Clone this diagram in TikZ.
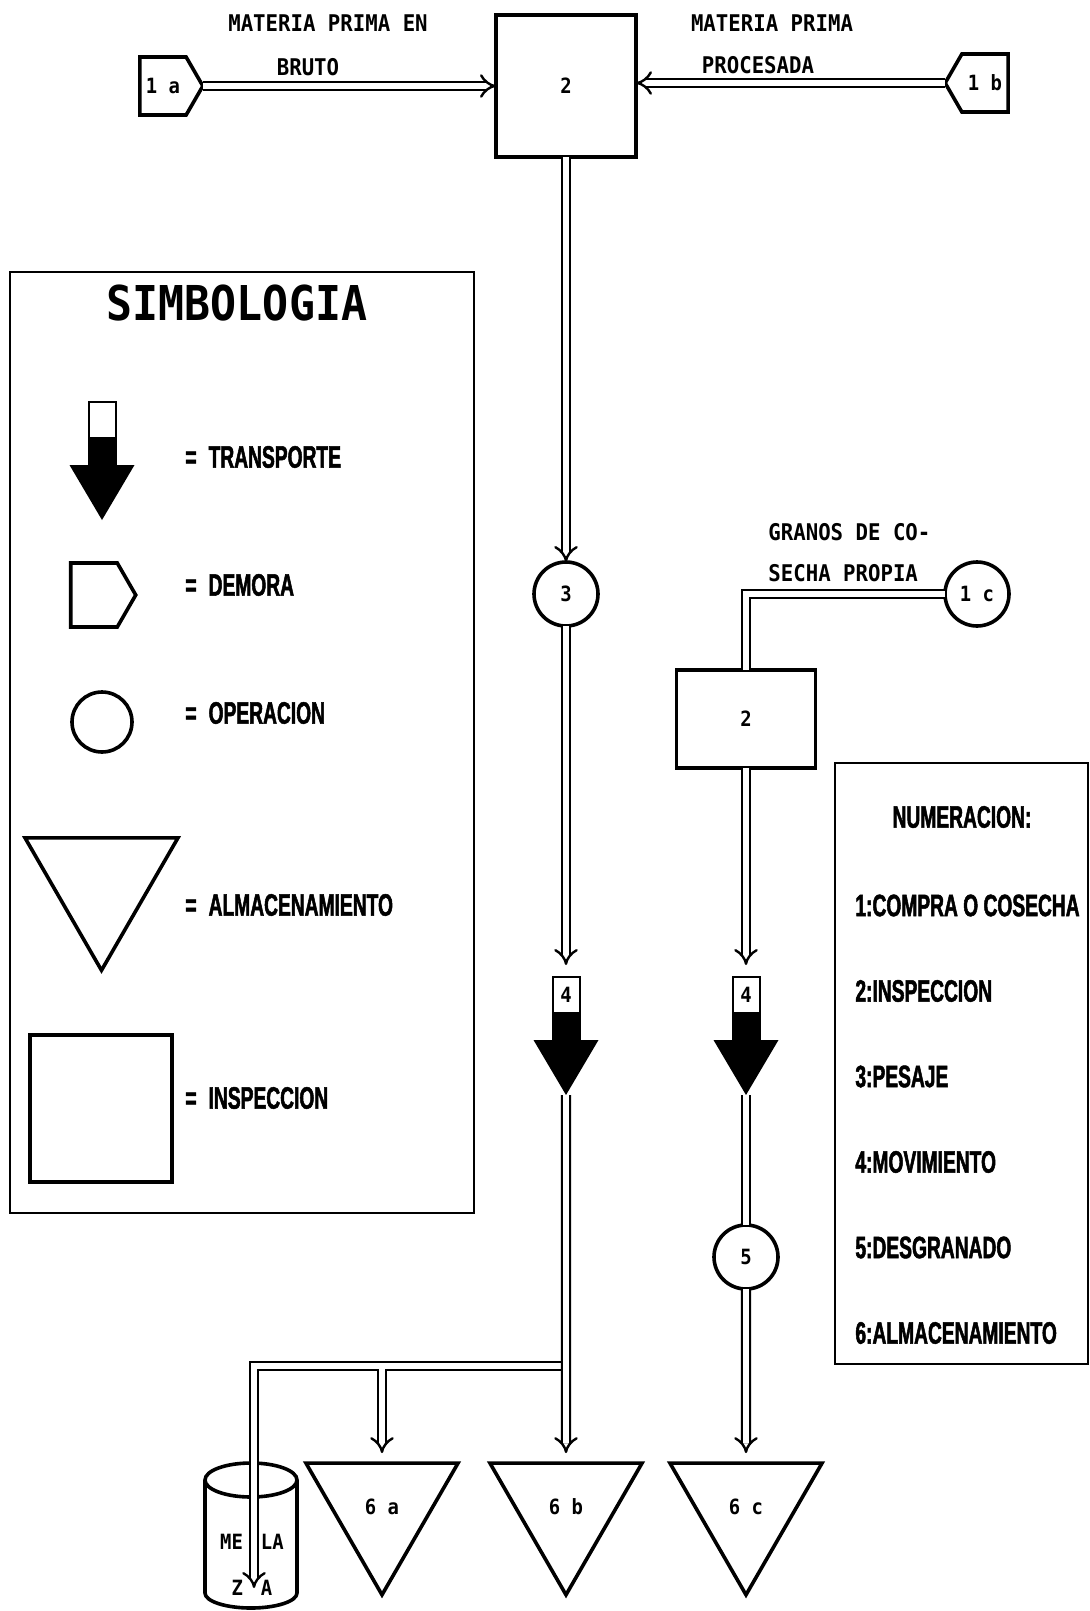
\documentclass[tikz,border=0pt]{standalone}
\usepackage{fontspec}
\usetikzlibrary{arrows.meta,positioning,shapes.geometric,shapes.symbols}
\newfontfamily\dotfont[FakeStretch=0.9]{DejaVu Sans Mono}
\newfontfamily\legfont[FakeStretch=0.62, BoldFeatures={FakeBold=1.6}]{Liberation Sans}

\tikzset{
  shapeline/.style={draw, line width=1.8pt, inner sep=0pt, outer sep=0pt},
  num/.style={font=\dotfont\bfseries\fontsize{10.5}{12}\selectfont},
  lbl/.style={font=\dotfont\bfseries\fontsize{11.5}{13}\selectfont, inner sep=0pt},
  leg/.style={font=\legfont\bfseries\fontsize{15.5}{18}\selectfont, inner sep=0pt},
  inspeccion/.style={shapeline, num, rectangle},
  operacion/.style={shapeline, num, circle, minimum size=32pt},
  demora/.style={shapeline, num, signal, signal pointer angle=120, minimum width=31.5pt, minimum height=29pt},
  almacen/.style={shapeline, num, regular polygon, regular polygon sides=3, shape border rotate=180, minimum size=87.8pt},
  flow/.style={double, line width=1.2pt, double distance=2.8pt},
  transporte/.pic={
    \fill (-32.5,63) -- (32.5,63) -- (0,118) -- cycle;
    \fill (-13.5,35) rectangle (13.5,63);
    \draw[line width=1pt] (-13.5,0) rectangle (13.5,63);
    \node[num, inner sep=0pt] (-lbl) at (0,17.5) {#1};
    \coordinate (-top) at (0,0);
    \coordinate (-tip) at (0,118);
  }
}

\begin{document}
\begin{tikzpicture}[x=0.5pt, y=-0.5pt]
    \fill[white] (0,0) rectangle (1089,1611);
    \useasboundingbox (0,0) rectangle (1089,1611);

    \node[demora, signal to=east] (d1a) at (163,86) {1 a};
    \node[demora, signal to=west] (d1b) at (985,83) {1 b};
    \node[inspeccion, minimum width=70pt, minimum height=71pt] (insp1) at (566,86) {2};
    \node[lbl] (mp1) at (328,23) {MATERIA PRIMA EN};
    \node[lbl] (mp2) at (308,67) {BRUTO};
    \node[lbl] (mp3) at (772,23) {MATERIA PRIMA};
    \node[lbl] (mp4) at (758,65) {PROCESADA};

    \node[operacion] (op3) at (566,594) {3};
    \node[operacion] (op1c) at (977,594) {1 c};
    \node[lbl, anchor=west] (gr1) at (768,532) {GRANOS DE CO-};
    \node[lbl, below=20.5pt of gr1.west, anchor=west] (gr2) {SECHA PROPIA};
    \node[inspeccion, minimum width=69.5pt, minimum height=49pt] (insp2) at (746,719) {2};

    \pic (t4a) at (566,977) {transporte=4};
    \pic (t4b) at (746,977) {transporte=4};
    \node[operacion] (op5) at (746,1257) {5};

    \node[almacen] (alm6a) at (382,1507) {6 a};
    \node[almacen] (alm6b) at (566,1507) {6 b};
    \node[almacen] (alm6c) at (746,1507) {6 c};

    \draw[line width=1.8pt] (251,1480) ellipse [x radius=46, y radius=17];
    \draw[line width=1.8pt] (205,1480) -- (205,1593) arc[start angle=180, end angle=0, x radius=46, y radius=15] -- (297,1480);
    \node[num] (mela1) at (252,1542) {ME\hspace{9pt}LA};
    \node[num] (mela2) at (252,1588) {Z\hspace{9pt}A};
    \coordinate (melafin) at (254,1588);

    \draw[flow, -{Implies}] (d1a.east) -- (insp1.west);
    \draw[flow, -{Implies}] (d1b.west) -- (d1b.west -| insp1.east);
    \draw[flow, -{Implies}] (insp1.south) -- (op3.north);
    \draw[flow, -{Implies}, shorten >=6pt] (op3.south) -- (t4a-top);
    \coordinate (jmain) at (566,1366);
    \coordinate (j6a) at (jmain -| alm6a.north);
    \draw[flow, -{Implies}] (jmain) -| (melafin);
    \draw[flow, -{Implies}, shorten >=5pt] ([yshift=-1.5pt]j6a) -- (alm6a.north);
    \draw[flow, -{Implies}, shorten >=5pt] (t4a-tip) -- (alm6b.north);

    \draw[flow] (op1c.west) -| (insp2.north);
    \draw[flow, -{Implies}, shorten >=6pt] (insp2.south) -- (t4b-top);
    \draw[flow] (t4b-tip) -- (op5.north);
    \draw[flow, -{Implies}, shorten >=5pt] (op5.south) -- (alm6c.north);

    \draw[line width=1pt] (10,272) rectangle (474,1213);
    \node[font=\dotfont\bfseries\fontsize{24}{28}\selectfont] (titulo) at (237,303) {SIMBOLOGIA};
    \pic (ltr) at (102,402) {transporte=};
    \node[leg, anchor=west] (ltrtxt) at (185,457) {=\hspace{6pt}TRANSPORTE};
    \node[demora, signal to=east, minimum width=32.5pt, minimum height=32pt] (ldem) at (94,595) {};
    \node[leg, anchor=west] (ldemtxt) at (185,585) {=\hspace{6pt}DEMORA};
    \node[operacion, minimum size=30pt] (lop) at (102,722) {};
    \node[leg, anchor=west] (loptxt) at (185,713) {=\hspace{6pt}OPERACION};
    \node[almacen, minimum size=88.3pt] (lalm) at (101.5,882) {};
    \node[leg, anchor=west] (lalmtxt) at (185,905) {=\hspace{6pt}ALMACENAMIENTO};
    \node[inspeccion, minimum width=71pt, minimum height=73.5pt] (linsp) at (101,1108.5) {};
    \node[leg, anchor=west] (linsptxt) at (185,1098) {=\hspace{6pt}INSPECCION};

    \draw[line width=1pt] (835,763) rectangle (1088,1364);
    \node[leg] (numtit) at (962,817) {NUMERACION:};
    \foreach \t [count=\k] in {{1:COMPRA O COSECHA},{2:INSPECCION},{3:PESAJE},{4:MOVIMIENTO},{5:DESGRANADO},{6:ALMACENAMIENTO}}
      \node[leg, anchor=west] (num\k) at (855,820+85.5*\k) {\t};
  \end{tikzpicture}
\end{document}
